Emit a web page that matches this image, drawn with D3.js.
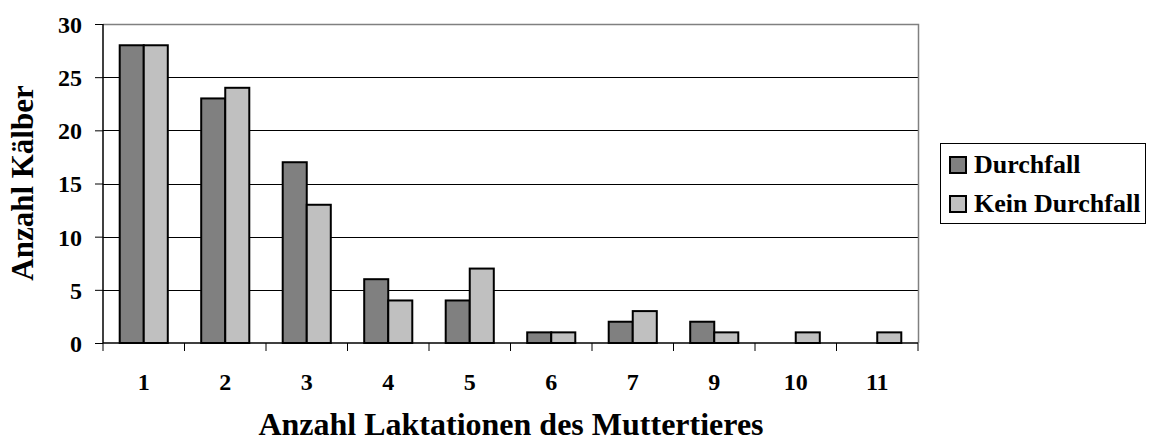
<!DOCTYPE html>
<html>
<head>
<meta charset="utf-8">
<script src="https://cdn.jsdelivr.net/npm/d3@7"></script>
<style>
  body { margin: 0; background: #fff; }
  text { font-family: "Liberation Serif", "Times New Roman", serif; font-weight: bold; fill: #000; }
</style>
</head>
<body>
<svg id="chart" width="1154" height="443"></svg>
<script>
// Laktationsnummer des Muttertieres
var categories = ["1", "2", "3", "4", "5", "6", "7", "9", "10", "11"];
var seriesNames = ["Durchfall", "Kein Durchfall"];
var durchfall = [28, 23, 17, 6, 4, 1, 2, 2, 0, 0];
var keinDurchfall = [28, 24, 13, 4, 7, 1, 3, 1, 1, 1];
var yTicks = [0, 5, 10, 15, 20, 25, 30];
var colors = ["#808080", "#c0c0c0"];

var svg = d3.select("#chart");
var pLeft = 103, pRight = 918, pTop = 24, pBottom = 343;

var x = d3.scaleBand().domain(categories).range([pLeft, pRight]).paddingInner(0.41).paddingOuter(0.205);
var xs = d3.scaleBand().domain([0, 1]).range([0, x.bandwidth()]);
var y = d3.scaleLinear().domain([0, 30]).range([pBottom, pTop]);

// gridlines
svg.append("g").selectAll("line").data(yTicks.filter(function(d) { return d > 0 && d < 30; }))
  .enter().append("line")
  .attr("x1", pLeft).attr("x2", pRight)
  .attr("y1", function(d) { return Math.round(y(d)) + 0.5; })
  .attr("y2", function(d) { return Math.round(y(d)) + 0.5; })
  .attr("stroke", "#000").attr("stroke-width", 1);

// plot frame (top + right gray)
svg.append("path")
  .attr("d", "M" + pLeft + "," + (pTop + 0.5) + "H" + (pRight + 0.5) + "V" + pBottom)
  .attr("fill", "none").attr("stroke", "#808080").attr("stroke-width", 1.5);

// bars
var rows = categories.map(function(c, i) { return { cat: c, vals: [durchfall[i], keinDurchfall[i]] }; });
var g = svg.append("g").selectAll("g").data(rows).enter().append("g")
  .attr("transform", function(d) { return "translate(" + x(d.cat) + ",0)"; });
g.selectAll("rect").data(function(d) { return d.vals.map(function(v, j) { return { v: v, j: j }; }); })
  .enter().filter(function(d) { return d.v > 0; }).append("rect")
  .attr("x", function(d) { return xs(d.j); })
  .attr("width", xs.bandwidth())
  .attr("y", function(d) { return y(d.v); })
  .attr("height", function(d) { return y(0) - y(d.v); })
  .attr("fill", function(d) { return colors[d.j]; })
  .attr("stroke", "#000").attr("stroke-width", 2);

// y axis
var yAxis = d3.axisLeft(y).tickValues(yTicks).tickSize(8).tickPadding(13);
var ya = svg.append("g").attr("transform", "translate(" + pLeft + ",0)").call(yAxis);
ya.select(".domain").attr("stroke", "#000").attr("stroke-width", 1.5).attr("d", "M0," + pTop + "V" + pBottom);
ya.selectAll(".tick line").attr("stroke", "#000");
ya.selectAll("text").attr("font-size", 24).attr("font-family", null).attr("dy", "0.35em");

// x axis
var xa = svg.append("g").attr("transform", "translate(0," + pBottom + ")");
xa.append("line").attr("x1", pLeft).attr("x2", pRight).attr("stroke", "#000").attr("stroke-width", 1.5);
var bounds = d3.range(categories.length + 1).map(function(i) { return pLeft + i * x.step(); });
xa.selectAll("line.tk").data(bounds).enter().append("line").attr("class", "tk")
  .attr("x1", function(d) { return d; }).attr("x2", function(d) { return d; })
  .attr("y1", 0).attr("y2", 8).attr("stroke", "#000");
xa.selectAll("text").data(categories).enter().append("text")
  .attr("x", function(d) { return x(d) + x.bandwidth() / 2; })
  .attr("y", 47).attr("text-anchor", "middle").attr("font-size", 24).text(function(d) { return d; });

// titles
svg.append("text").attr("x", 511).attr("y", 435).attr("text-anchor", "middle")
  .attr("font-size", 32).text("Anzahl Laktationen des Muttertieres");
svg.append("text").attr("transform", "translate(33,183) rotate(-90)").attr("text-anchor", "middle")
  .attr("font-size", 31).text("Anzahl Kälber");

// legend
var lg = svg.append("g");
lg.append("rect").attr("x", 940.5).attr("y", 143.5).attr("width", 205).attr("height", 80)
  .attr("fill", "#fff").attr("stroke", "#000").attr("stroke-width", 1);
var li = lg.selectAll("g.item").data(seriesNames).enter().append("g").attr("class", "item")
  .attr("transform", function(d, i) { return "translate(0," + (173 + i * 39) + ")"; });
li.append("rect").attr("x", 950).attr("y", -16).attr("width", 16).attr("height", 16)
  .attr("fill", function(d, i) { return colors[i]; }).attr("stroke", "#000").attr("stroke-width", 2);
li.append("text").attr("x", 974).attr("y", 0).attr("font-size", 26).text(function(d) { return d; });
</script>
</body>
</html>
